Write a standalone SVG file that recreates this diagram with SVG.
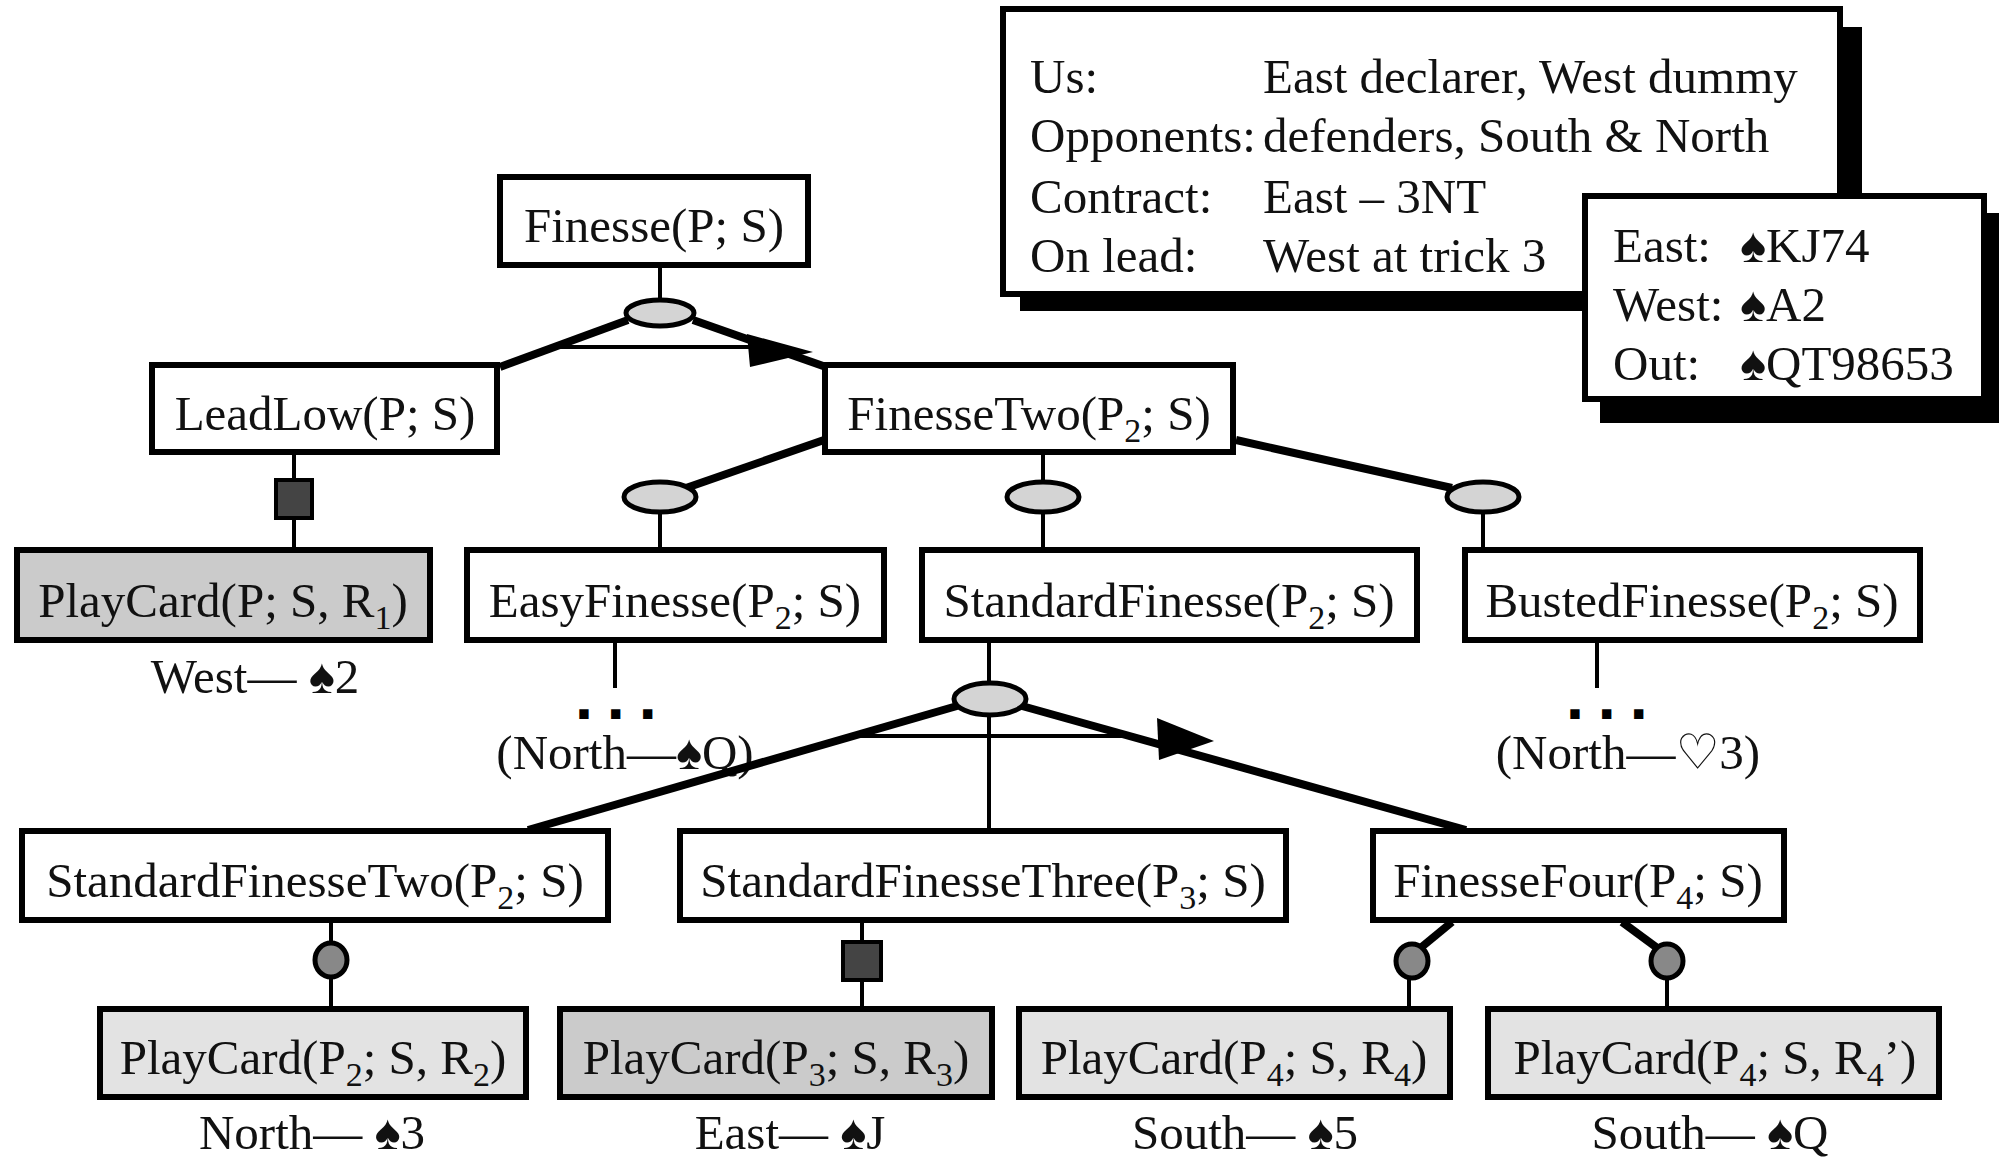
<svg xmlns="http://www.w3.org/2000/svg" width="1999" height="1162" viewBox="0 0 1999 1162">
<style>
text{font-family:"Liberation Serif","DejaVu Serif",serif;font-size:49px;fill:#111}
.c{text-anchor:middle}
.box{fill:#fff;stroke:#000;stroke-width:6}
.pc1{fill:#cbcbcb;stroke:#000;stroke-width:6}
.pc2{fill:#e3e3e3;stroke:#000;stroke-width:6}
.thin{stroke:#000;stroke-width:4;fill:none}
.thick{stroke:#000;stroke-width:8;fill:none}
.ov{fill:#d4d4d4;stroke:#000;stroke-width:5}
.dot{fill:#888;stroke:#000;stroke-width:5}
.sq{fill:#444;stroke:#000;stroke-width:4}
.sub{font-size:34px}
.dots{font-family:"DejaVu Sans",sans-serif;font-weight:bold;font-size:30px;letter-spacing:20.5px;fill:#000;stroke:#000;stroke-width:4;stroke-linejoin:miter}
</style>
<rect width="1999" height="1162" fill="#fff"/>

<g id="info">
  <rect x="1020" y="27" width="842" height="284" fill="#000"/>
  <rect class="box" x="1003" y="9" width="837" height="285"/>
  <text x="1030" y="93">Us:</text><text x="1263" y="93">East declarer, West dummy</text>
  <text x="1030" y="152">Opponents:</text><text x="1263" y="152">defenders, South &amp; North</text>
  <text x="1030" y="213">Contract:</text><text x="1263" y="213">East – 3NT</text>
  <text x="1030" y="272">On lead:</text><text x="1263" y="272">West at trick 3</text>
</g>
<g id="hands">
  <rect x="1600" y="213" width="405" height="210" fill="#000"/>
  <rect class="box" x="1585" y="196" width="399" height="203"/>
  <text x="1613" y="262">East:</text><text x="1740" y="262">♠KJ74</text>
  <text x="1613" y="321">West:</text><text x="1740" y="321">♠A2</text>
  <text x="1613" y="380">Out:</text><text x="1740" y="380">♠QT98653</text>
</g>

<g id="connectors">
  <!-- Finesse -->
  <line class="thin" x1="660" y1="268" x2="660" y2="300"/>
  <line class="thick" x1="628" y1="320" x2="500" y2="367"/>
  <line class="thick" x1="693" y1="320" x2="826" y2="367"/>
  <line class="thin" x1="552" y1="347" x2="752" y2="347"/>
  <polygon points="747,334 750,367 813,352" fill="#000"/>
  <ellipse class="ov" cx="660" cy="313" rx="34" ry="13"/>
  <!-- LeadLow -->
  <line class="thin" x1="294" y1="454" x2="294" y2="548"/>
  <rect class="sq" x="276" y="480" width="36" height="38"/>
  <!-- FinesseTwo -->
  <line class="thick" x1="824" y1="440" x2="686" y2="488"/>
  <line class="thin" x1="660" y1="505" x2="660" y2="548"/>
  <ellipse class="ov" cx="660" cy="497" rx="36" ry="15"/>
  <line class="thin" x1="1043" y1="454" x2="1043" y2="548"/>
  <ellipse class="ov" cx="1043" cy="497" rx="36" ry="15"/>
  <line class="thick" x1="1236" y1="440" x2="1452" y2="488"/>
  <line class="thin" x1="1483" y1="505" x2="1483" y2="548"/>
  <ellipse class="ov" cx="1483" cy="497" rx="36" ry="15"/>
  <!-- EasyFinesse / BustedFinesse -->
  <line class="thin" x1="615" y1="642" x2="615" y2="688"/>
  <text class="dots c" x="626" y="717">...</text>
  <text class="c" x="625" y="769">(North—♠Q)</text>
  <line class="thin" x1="1597" y1="642" x2="1597" y2="688"/>
  <text class="dots c" x="1617" y="717">...</text>
  <text class="c" x="1628" y="769">(North—♡3)</text>
  <!-- StandardFinesse -->
  <line class="thin" x1="989" y1="642" x2="989" y2="830"/>
  <line class="thick" x1="957" y1="706" x2="528" y2="830"/>
  <line class="thick" x1="1022" y1="706" x2="1466" y2="830"/>
  <line class="thin" x1="855" y1="736" x2="1126" y2="736"/>
  <polygon points="1157,718 1159,760 1214,741" fill="#000"/>
  <ellipse class="ov" cx="990" cy="699" rx="36" ry="16"/>
  <!-- StandardFinesseTwo -->
  <line class="thin" x1="331" y1="923" x2="331" y2="1007"/>
  <ellipse class="dot" cx="331" cy="960" rx="16" ry="17"/>
  <!-- StandardFinesseThree -->
  <line class="thin" x1="862" y1="923" x2="862" y2="1007"/>
  <rect class="sq" x="843" y="942" width="38" height="38"/>
  <!-- FinesseFour -->
  <line class="thick" x1="1452" y1="922" x2="1418" y2="950"/>
  <line class="thin" x1="1409" y1="975" x2="1409" y2="1007"/>
  <ellipse class="dot" cx="1412" cy="961" rx="16" ry="17"/>
  <line class="thick" x1="1622" y1="922" x2="1660" y2="950"/>
  <line class="thin" x1="1667" y1="975" x2="1667" y2="1007"/>
  <ellipse class="dot" cx="1667" cy="961" rx="16" ry="17"/>
</g>

<g id="n-finesse"><rect class="box" x="500" y="177" width="308" height="88"/>
  <text class="c" x="654" y="242">Finesse(P; S)</text></g>
<g id="n-leadlow"><rect class="box" x="152" y="365" width="345" height="87"/>
  <text class="c" x="325" y="430">LeadLow(P; S)</text></g>
<g id="n-finessetwo"><rect class="box" x="825" y="365" width="408" height="87"/>
  <text class="c" x="1029" y="430">FinesseTwo(P<tspan class="sub" dy="12">2</tspan><tspan dy="-12">; S)</tspan></text></g>
<g id="n-playcard1"><rect class="pc1" x="17" y="550" width="413" height="90"/>
  <text class="c" x="223" y="617">PlayCard(P; S, R<tspan class="sub" dy="12">1</tspan><tspan dy="-12">)</tspan></text>
  <text class="c" x="255" y="693">West— ♠2</text></g>
<g id="n-easy"><rect class="box" x="467" y="550" width="417" height="90"/>
  <text class="c" x="675" y="617">EasyFinesse(P<tspan class="sub" dy="12">2</tspan><tspan dy="-12">; S)</tspan></text></g>
<g id="n-standard"><rect class="box" x="922" y="550" width="495" height="90"/>
  <text class="c" x="1169" y="617">StandardFinesse(P<tspan class="sub" dy="12">2</tspan><tspan dy="-12">; S)</tspan></text></g>
<g id="n-busted"><rect class="box" x="1465" y="550" width="455" height="90"/>
  <text class="c" x="1692" y="617">BustedFinesse(P<tspan class="sub" dy="12">2</tspan><tspan dy="-12">; S)</tspan></text></g>
<g id="n-sf2"><rect class="box" x="22" y="831" width="586" height="89"/>
  <text class="c" x="315" y="897">StandardFinesseTwo(P<tspan class="sub" dy="12">2</tspan><tspan dy="-12">; S)</tspan></text></g>
<g id="n-sf3"><rect class="box" x="680" y="831" width="606" height="89"/>
  <text class="c" x="983" y="897">StandardFinesseThree(P<tspan class="sub" dy="12">3</tspan><tspan dy="-12">; S)</tspan></text></g>
<g id="n-f4"><rect class="box" x="1373" y="831" width="411" height="89"/>
  <text class="c" x="1578" y="897">FinesseFour(P<tspan class="sub" dy="12">4</tspan><tspan dy="-12">; S)</tspan></text></g>
<g id="n-pc2"><rect class="pc2" x="100" y="1009" width="426" height="88"/>
  <text class="c" x="313" y="1074">PlayCard(P<tspan class="sub" dy="12">2</tspan><tspan dy="-12">; S, R</tspan><tspan class="sub" dy="12">2</tspan><tspan dy="-12">)</tspan></text>
  <text class="c" x="312" y="1149">North— ♠3</text></g>
<g id="n-pc3"><rect class="pc1" x="560" y="1009" width="432" height="88"/>
  <text class="c" x="776" y="1074">PlayCard(P<tspan class="sub" dy="12">3</tspan><tspan dy="-12">; S, R</tspan><tspan class="sub" dy="12">3</tspan><tspan dy="-12">)</tspan></text>
  <text class="c" x="790" y="1149">East— ♠J</text></g>
<g id="n-pc4"><rect class="pc2" x="1019" y="1009" width="431" height="88"/>
  <text class="c" x="1234" y="1074">PlayCard(P<tspan class="sub" dy="12">4</tspan><tspan dy="-12">; S, R</tspan><tspan class="sub" dy="12">4</tspan><tspan dy="-12">)</tspan></text>
  <text class="c" x="1245" y="1149">South— ♠5</text></g>
<g id="n-pc4b"><rect class="pc2" x="1488" y="1009" width="451" height="88"/>
  <text class="c" x="1715" y="1074">PlayCard(P<tspan class="sub" dy="12">4</tspan><tspan dy="-12">; S, R</tspan><tspan class="sub" dy="12">4</tspan><tspan dy="-12">’)</tspan></text>
  <text class="c" x="1710" y="1149">South— ♠Q</text></g>
</svg>
